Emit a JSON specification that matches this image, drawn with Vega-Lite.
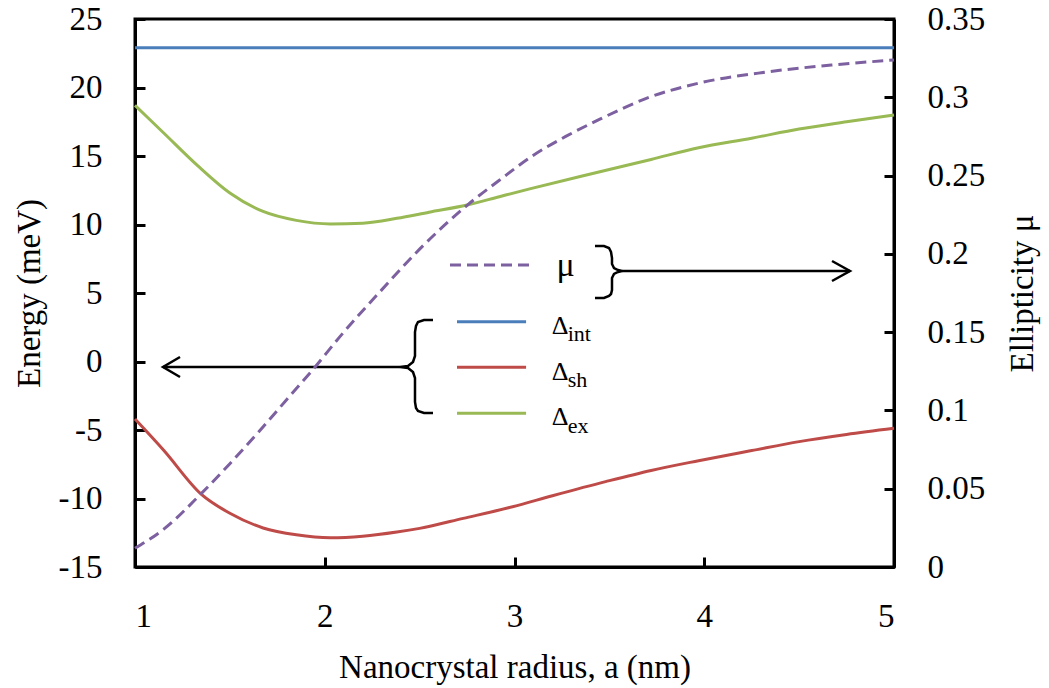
{
  "$schema": "https://vega.github.io/schema/vega-lite/v6.json",
  "width": 759,
  "height": 548,
  "autosize": {"type": "none"},
  "padding": {"left": 135, "top": 19, "right": 155, "bottom": 121},
  "background": "white",
  "config": {
    "font": "Times New Roman, Liberation Serif, DejaVu Serif, Noto Serif, serif",
    "view": {"stroke": "black", "strokeWidth": 3},
    "text": {"font": "Times New Roman, Liberation Serif, DejaVu Serif, Noto Serif, serif"},
    "axis": {
      "grid": false,
      "domainColor": "black",
      "domainWidth": 3,
      "tickColor": "black",
      "tickWidth": 3,
      "tickSize": -10,
      "labelPadding": 43,
      "labelFont": "Times New Roman, Liberation Serif, DejaVu Serif, Noto Serif, serif",
      "labelFontSize": 33,
      "labelColor": "black",
      "titleFont": "Times New Roman, Liberation Serif, DejaVu Serif, Noto Serif, serif",
      "titleFontSize": 33,
      "titleFontWeight": "normal",
      "titleColor": "black"
    }
  },
  "datasets": {
    "energy": [
      {"s": "int", "a": 1.0, "E": 22.9}, {"s": "int", "a": 5.0, "E": 22.9},
      {"s": "sh", "a": 1.0, "E": -4.2}, {"s": "sh", "a": 1.15, "E": -6.46}, {"s": "sh", "a": 1.35, "E": -9.7},
      {"s": "sh", "a": 1.5, "E": -11.08}, {"s": "sh", "a": 1.675, "E": -12.15}, {"s": "sh", "a": 1.85, "E": -12.65},
      {"s": "sh", "a": 2.03, "E": -12.86}, {"s": "sh", "a": 2.2, "E": -12.75}, {"s": "sh", "a": 2.38, "E": -12.45},
      {"s": "sh", "a": 2.5, "E": -12.18}, {"s": "sh", "a": 2.73, "E": -11.45}, {"s": "sh", "a": 2.99, "E": -10.6},
      {"s": "sh", "a": 3.2, "E": -9.8}, {"s": "sh", "a": 3.48, "E": -8.77}, {"s": "sh", "a": 3.72, "E": -7.95},
      {"s": "sh", "a": 3.97, "E": -7.24}, {"s": "sh", "a": 4.25, "E": -6.5}, {"s": "sh", "a": 4.5, "E": -5.85},
      {"s": "sh", "a": 4.75, "E": -5.33}, {"s": "sh", "a": 5.0, "E": -4.88},
      {"s": "ex", "a": 1.0, "E": 18.7}, {"s": "ex", "a": 1.15, "E": 16.7}, {"s": "ex", "a": 1.33, "E": 14.3},
      {"s": "ex", "a": 1.5, "E": 12.3}, {"s": "ex", "a": 1.675, "E": 10.95}, {"s": "ex", "a": 1.85, "E": 10.3},
      {"s": "ex", "a": 2.03, "E": 10.04}, {"s": "ex", "a": 2.2, "E": 10.1}, {"s": "ex", "a": 2.38, "E": 10.45},
      {"s": "ex", "a": 2.55, "E": 10.9}, {"s": "ex", "a": 2.75, "E": 11.42}, {"s": "ex", "a": 2.92, "E": 12.03},
      {"s": "ex", "a": 3.08, "E": 12.6}, {"s": "ex", "a": 3.45, "E": 13.85}, {"s": "ex", "a": 3.72, "E": 14.75},
      {"s": "ex", "a": 3.97, "E": 15.6}, {"s": "ex", "a": 4.25, "E": 16.3}, {"s": "ex", "a": 4.5, "E": 16.97},
      {"s": "ex", "a": 4.75, "E": 17.5}, {"s": "ex", "a": 5.0, "E": 18.0}
    ],
    "ellip": [
      {"a": 1.0, "mu": 0.012}, {"a": 1.15, "mu": 0.024}, {"a": 1.35, "mu": 0.047}, {"a": 1.5, "mu": 0.066},
      {"a": 1.65, "mu": 0.086}, {"a": 1.8, "mu": 0.107}, {"a": 1.93, "mu": 0.125}, {"a": 2.1, "mu": 0.15},
      {"a": 2.3, "mu": 0.177}, {"a": 2.5, "mu": 0.203}, {"a": 2.75, "mu": 0.231}, {"a": 2.92, "mu": 0.247},
      {"a": 3.1, "mu": 0.263}, {"a": 3.27, "mu": 0.275}, {"a": 3.45, "mu": 0.286}, {"a": 3.71, "mu": 0.3},
      {"a": 3.97, "mu": 0.309}, {"a": 4.32, "mu": 0.316}, {"a": 4.67, "mu": 0.3206}, {"a": 5.0, "mu": 0.3238}
    ],
    "legendLines": [
      {"s": "int", "a": 2.697, "E": 2.9}, {"s": "int", "a": 3.061, "E": 2.9},
      {"s": "sh", "a": 2.697, "E": -0.42}, {"s": "sh", "a": 3.061, "E": -0.42},
      {"s": "ex", "a": 2.697, "E": -3.78}, {"s": "ex", "a": 3.061, "E": -3.78}
    ],
    "legendMu": [
      {"a": 2.66, "E": 7.04}, {"a": 3.108, "E": 7.04}
    ],
    "shapes": [
      {"g": "rb", "i": 1, "a": 3.4242, "E": 8.431}, {"g": "rb", "i": 2, "a": 3.4717, "E": 8.431},
      {"g": "rb", "i": 3, "a": 3.498, "E": 8.285}, {"g": "rb", "i": 4, "a": 3.5086, "E": 7.993},
      {"g": "rb", "i": 5, "a": 3.5138, "E": 7.555}, {"g": "rb", "i": 6, "a": 3.5138, "E": 7.117},
      {"g": "rb", "i": 7, "a": 3.5244, "E": 6.825}, {"g": "rb", "i": 8, "a": 3.5455, "E": 6.679},
      {"g": "rb", "i": 9, "a": 3.5665, "E": 6.606}, {"g": "rb", "i": 10, "a": 3.5455, "E": 6.533},
      {"g": "rb", "i": 11, "a": 3.5244, "E": 6.387}, {"g": "rb", "i": 12, "a": 3.5138, "E": 6.095},
      {"g": "rb", "i": 13, "a": 3.5138, "E": 5.219}, {"g": "rb", "i": 14, "a": 3.5086, "E": 4.927},
      {"g": "rb", "i": 15, "a": 3.498, "E": 4.781}, {"g": "rb", "i": 16, "a": 3.4717, "E": 4.635},
      {"g": "rb", "i": 17, "a": 3.4242, "E": 4.635},
      {"g": "ra", "i": 1, "a": 3.5665, "E": 6.606}, {"g": "ra", "i": 2, "a": 4.7681, "E": 6.606},
      {"g": "rh", "i": 1, "a": 4.6733, "E": 7.336}, {"g": "rh", "i": 2, "a": 4.7681, "E": 6.606},
      {"g": "rh", "i": 3, "a": 4.6733, "E": 5.876},
      {"g": "lb", "i": 1, "a": 2.5705, "E": 3.029}, {"g": "lb", "i": 2, "a": 2.5231, "E": 3.029},
      {"g": "lb", "i": 3, "a": 2.4914, "E": 2.883}, {"g": "lb", "i": 4, "a": 2.4809, "E": 2.591},
      {"g": "lb", "i": 5, "a": 2.4756, "E": 2.153}, {"g": "lb", "i": 6, "a": 2.4756, "E": 0.401},
      {"g": "lb", "i": 7, "a": 2.4651, "E": -0.036}, {"g": "lb", "i": 8, "a": 2.4387, "E": -0.328},
      {"g": "lb", "i": 9, "a": 2.3966, "E": -0.401}, {"g": "lb", "i": 10, "a": 2.4387, "E": -0.474},
      {"g": "lb", "i": 11, "a": 2.4651, "E": -0.766}, {"g": "lb", "i": 12, "a": 2.4756, "E": -1.204},
      {"g": "lb", "i": 13, "a": 2.4756, "E": -2.956}, {"g": "lb", "i": 14, "a": 2.4809, "E": -3.394},
      {"g": "lb", "i": 15, "a": 2.4914, "E": -3.613}, {"g": "lb", "i": 16, "a": 2.5231, "E": -3.759},
      {"g": "lb", "i": 17, "a": 2.5705, "E": -3.759},
      {"g": "la", "i": 1, "a": 2.3966, "E": -0.401}, {"g": "la", "i": 2, "a": 1.1476, "E": -0.401},
      {"g": "lh", "i": 1, "a": 1.2372, "E": 0.328}, {"g": "lh", "i": 2, "a": 1.1476, "E": -0.401},
      {"g": "lh", "i": 3, "a": 1.2372, "E": -1.131}
    ],
    "deltas": [
      {"t": "Δ", "a": 3.196, "E": 2.0}, {"t": "Δ", "a": 3.196, "E": -1.35}, {"t": "Δ", "a": 3.196, "E": -4.64}
    ],
    "subs": [
      {"t": "int", "a": 3.28, "E": 1.52}, {"t": "sh", "a": 3.28, "E": -1.84}, {"t": "ex", "a": 3.28, "E": -5.2}
    ],
    "muText": [
      {"t": "μ", "a": 3.222, "E": 6.24}
    ]
  },
  "encoding": {
    "x": {
      "field": "a",
      "type": "quantitative",
      "scale": {"domain": [1, 5], "nice": false, "zero": false},
      "axis": {"values": [1, 2, 3, 4, 5], "title": "Nanocrystal radius, a (nm)", "titlePadding": 18, "labelExpr": "toString(datum.value)"}
    }
  },
  "layer": [
    {
      "encoding": {
        "y": {
          "field": "E",
          "type": "quantitative",
          "scale": {"domain": [-15, 25], "nice": false, "zero": false},
          "axis": {"values": [-15, -10, -5, 0, 5, 10, 15, 20, 25], "title": "Energy (meV)", "labelExpr": "toString(datum.value)", "titlePadding": 12}
        }
      },
      "layer": [
        {
          "data": {"name": "energy"},
          "mark": {"type": "line", "strokeWidth": 3, "interpolate": "monotone"},
          "encoding": {
            "color": {"field": "s", "type": "nominal", "scale": {"domain": ["int", "sh", "ex"], "range": ["#4A7EBB", "#BE4B48", "#98B954"]}, "legend": null}
          }
        },
        {
          "data": {"name": "legendLines"},
          "mark": {"type": "line", "strokeWidth": 3},
          "encoding": {
            "color": {"field": "s", "type": "nominal", "scale": {"domain": ["int", "sh", "ex"], "range": ["#4A7EBB", "#BE4B48", "#98B954"]}, "legend": null}
          }
        },
        {
          "data": {"name": "legendMu"},
          "mark": {"type": "line", "strokeWidth": 3, "color": "#7D60A0", "strokeDash": [11, 6]},
          "encoding": {}
        },
        {
          "data": {"name": "shapes"},
          "mark": {"type": "line", "strokeWidth": 2.5, "color": "black"},
          "encoding": {
            "detail": {"field": "g", "type": "nominal"},
            "order": {"field": "i", "type": "quantitative"}
          }
        },
        {
          "data": {"name": "deltas"},
          "mark": {"type": "text", "align": "left", "baseline": "alphabetic", "fontSize": 26, "font": "Times New Roman, Liberation Serif, DejaVu Serif, Noto Serif, serif", "color": "black"},
          "encoding": {"text": {"field": "t"}}
        },
        {
          "data": {"name": "subs"},
          "mark": {"type": "text", "align": "left", "baseline": "alphabetic", "fontSize": 22, "font": "Times New Roman, Liberation Serif, DejaVu Serif, Noto Serif, serif", "color": "black"},
          "encoding": {"text": {"field": "t"}}
        },
        {
          "data": {"name": "muText"},
          "mark": {"type": "text", "align": "left", "baseline": "alphabetic", "fontSize": 34, "font": "Times New Roman, Liberation Serif, DejaVu Serif, Noto Serif, serif", "color": "black"},
          "encoding": {"text": {"field": "t"}}
        }
      ]
    },
    {
      "data": {"name": "ellip"},
      "mark": {"type": "line", "strokeWidth": 3, "color": "#7D60A0", "strokeDash": [11, 6], "interpolate": "monotone"},
      "encoding": {
        "y": {
          "field": "mu",
          "type": "quantitative",
          "scale": {"domain": [0, 0.35], "nice": false, "zero": false},
          "axis": {"orient": "right", "values": [0, 0.05, 0.1, 0.15, 0.2, 0.25, 0.3, 0.35], "format": ".2~f", "title": "Ellipticity μ", "titleAngle": 270, "titleBaseline": "top", "titlePadding": 22}
        }
      }
    }
  ],
  "resolve": {"scale": {"y": "independent"}}
}
